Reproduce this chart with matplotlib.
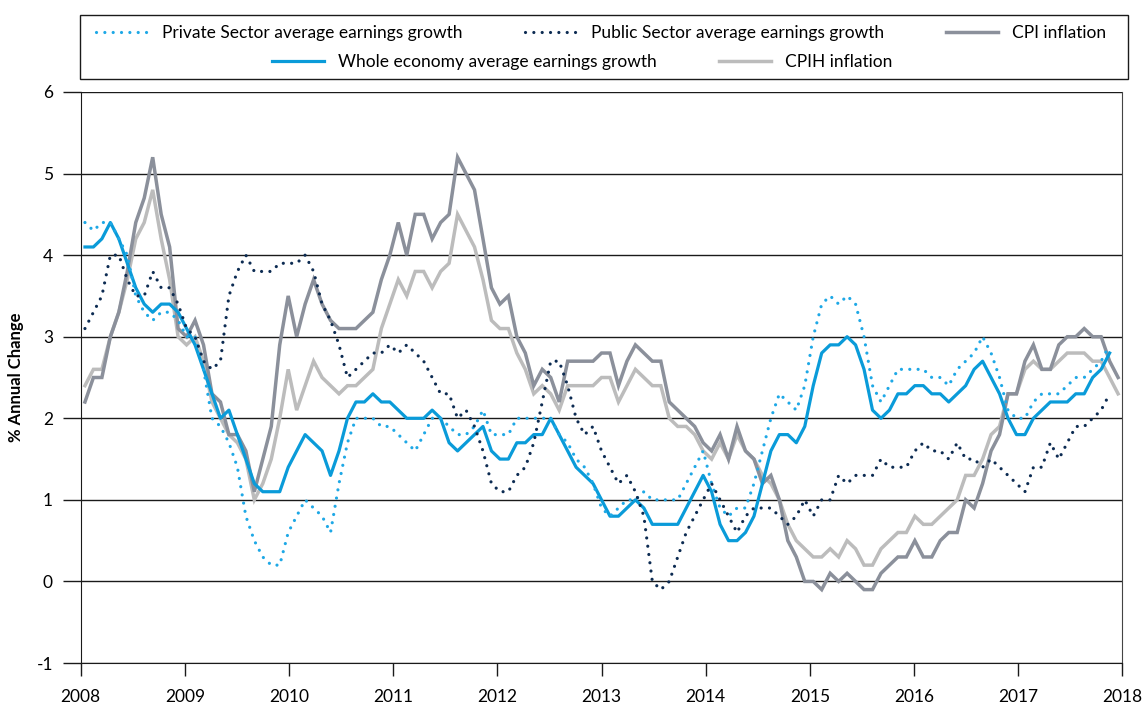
import matplotlib
matplotlib.use("Agg")
import matplotlib.pyplot as plt
from matplotlib.patches import Rectangle

plt.rcParams['font.family'] = ['Lato', 'DejaVu Sans']
plt.rcParams['axes.unicode_minus'] = False

# monthly series, Jan 2008 onwards
cpi = [2.2, 2.5, 2.5, 3.0, 3.3, 3.8, 4.4, 4.7, 5.2, 4.5, 4.1, 3.1,
       3.0, 3.2, 2.9, 2.3, 2.2, 1.8, 1.8, 1.6, 1.1, 1.5, 1.9, 2.9,
       3.5, 3.0, 3.4, 3.7, 3.4, 3.2, 3.1, 3.1, 3.1, 3.2, 3.3, 3.7,
       4.0, 4.4, 4.0, 4.5, 4.5, 4.2, 4.4, 4.5, 5.2, 5.0, 4.8, 4.2,
       3.6, 3.4, 3.5, 3.0, 2.8, 2.4, 2.6, 2.5, 2.2, 2.7, 2.7, 2.7,
       2.7, 2.8, 2.8, 2.4, 2.7, 2.9, 2.8, 2.7, 2.7, 2.2, 2.1, 2.0,
       1.9, 1.7, 1.6, 1.8, 1.5, 1.9, 1.6, 1.5, 1.2, 1.3, 1.0, 0.5,
       0.3, 0.0, 0.0, -0.1, 0.1, 0.0, 0.1, 0.0, -0.1, -0.1, 0.1, 0.2,
       0.3, 0.3, 0.5, 0.3, 0.3, 0.5, 0.6, 0.6, 1.0, 0.9, 1.2, 1.6,
       1.8, 2.3, 2.3, 2.7, 2.9, 2.6, 2.6, 2.9, 3.0, 3.0, 3.1, 3.0,
       3.0, 2.7, 2.5]

cpih = [2.4, 2.6, 2.6, 3.0, 3.3, 3.7, 4.2, 4.4, 4.8, 4.2, 3.7, 3.0,
        2.9, 3.0, 2.7, 2.2, 2.0, 1.8, 1.7, 1.5, 1.0, 1.2, 1.5, 2.0,
        2.6, 2.1, 2.4, 2.7, 2.5, 2.4, 2.3, 2.4, 2.4, 2.5, 2.6, 3.1,
        3.4, 3.7, 3.5, 3.8, 3.8, 3.6, 3.8, 3.9, 4.5, 4.3, 4.1, 3.7,
        3.2, 3.1, 3.1, 2.8, 2.6, 2.3, 2.4, 2.3, 2.1, 2.4, 2.4, 2.4,
        2.4, 2.5, 2.5, 2.2, 2.4, 2.6, 2.5, 2.4, 2.4, 2.0, 1.9, 1.9,
        1.8, 1.6, 1.5, 1.7, 1.5, 1.8, 1.6, 1.5, 1.3, 1.2, 1.0, 0.7,
        0.5, 0.4, 0.3, 0.3, 0.4, 0.3, 0.5, 0.4, 0.2, 0.2, 0.4, 0.5,
        0.6, 0.6, 0.8, 0.7, 0.7, 0.8, 0.9, 1.0, 1.3, 1.3, 1.5, 1.8,
        1.9, 2.3, 2.3, 2.6, 2.7, 2.6, 2.6, 2.7, 2.8, 2.8, 2.8, 2.7,
        2.7, 2.5, 2.3]

whole = [4.1, 4.1, 4.2, 4.4, 4.2, 3.9, 3.6, 3.4, 3.3, 3.4, 3.4, 3.3,
         3.1, 2.9, 2.6, 2.3, 2.0, 2.1, 1.8, 1.5, 1.2, 1.1, 1.1, 1.1,
         1.4, 1.6, 1.8, 1.7, 1.6, 1.3, 1.6, 2.0, 2.2, 2.2, 2.3, 2.2,
         2.2, 2.1, 2.0, 2.0, 2.0, 2.1, 2.0, 1.7, 1.6, 1.7, 1.8, 1.9,
         1.6, 1.5, 1.5, 1.7, 1.7, 1.8, 1.8, 2.0, 1.8, 1.6, 1.4, 1.3,
         1.2, 1.0, 0.8, 0.8, 0.9, 1.0, 0.9, 0.7, 0.7, 0.7, 0.7, 0.9,
         1.1, 1.3, 1.1, 0.7, 0.5, 0.5, 0.6, 0.8, 1.2, 1.6, 1.8, 1.8,
         1.7, 1.9, 2.4, 2.8, 2.9, 2.9, 3.0, 2.9, 2.6, 2.1, 2.0, 2.1,
         2.3, 2.3, 2.4, 2.4, 2.3, 2.3, 2.2, 2.3, 2.4, 2.6, 2.7, 2.5,
         2.3, 2.0, 1.8, 1.8, 2.0, 2.1, 2.2, 2.2, 2.2, 2.3, 2.3, 2.5,
         2.6, 2.8]

private = [4.4, 4.3, 4.4, 4.4, 4.2, 4.0, 3.5, 3.3, 3.2, 3.3, 3.3, 3.2,
           3.0, 3.0, 2.6, 2.0, 1.9, 1.7, 1.4, 0.8, 0.5, 0.3, 0.2, 0.2,
           0.6, 0.8, 1.0, 0.9, 0.8, 0.6, 1.2, 1.7, 2.0, 2.0, 2.0, 1.9,
           1.9, 1.8, 1.7, 1.6, 1.8, 2.0, 2.0, 1.9, 1.8, 1.8, 1.9, 2.1,
           1.8, 1.8, 1.8, 2.0, 2.0, 2.0, 2.0, 2.0, 1.8, 1.7, 1.5, 1.4,
           1.2, 0.9, 0.8, 0.9, 1.0, 1.0, 1.1, 1.0, 1.0, 1.0, 1.0, 1.2,
           1.4, 1.6, 1.2, 0.9, 0.8, 0.9, 0.9, 1.2, 1.6, 2.0, 2.3, 2.2,
           2.1, 2.4, 3.0, 3.4, 3.5, 3.4, 3.5, 3.4, 3.0, 2.4, 2.2, 2.4,
           2.6, 2.6, 2.6, 2.6, 2.5, 2.5, 2.4, 2.6, 2.7, 2.8, 3.0, 2.8,
           2.5, 2.1, 2.0, 2.0, 2.2, 2.3, 2.3, 2.3, 2.4, 2.5, 2.5, 2.6,
           2.7, 2.9]

public = [3.1, 3.3, 3.5, 4.0, 4.0, 3.7, 3.5, 3.5, 3.8, 3.6, 3.6, 3.4,
          3.1, 3.0, 2.7, 2.6, 2.7, 3.5, 3.8, 4.0, 3.8, 3.8, 3.8, 3.9,
          3.9, 3.9, 4.0, 3.8, 3.4, 3.2, 2.9, 2.5, 2.6, 2.7, 2.8, 2.8,
          2.9, 2.8, 2.9, 2.8, 2.7, 2.5, 2.3, 2.3, 2.0, 2.1, 1.9, 1.6,
          1.2, 1.1, 1.1, 1.3, 1.4, 1.7, 2.2, 2.7, 2.7, 2.4, 2.0, 1.8,
          1.9, 1.6, 1.4, 1.2, 1.3, 1.1, 0.8, 0.0, -0.1, 0.0, 0.3, 0.6,
          0.8, 1.0, 1.2, 1.0, 0.8, 0.6, 0.8, 0.9, 0.9, 0.9, 0.8, 0.7,
          0.8, 1.0, 0.8, 1.0, 1.0, 1.3, 1.2, 1.3, 1.3, 1.3, 1.5, 1.4,
          1.4, 1.4, 1.6, 1.7, 1.6, 1.6, 1.5, 1.7, 1.5, 1.5, 1.4, 1.5,
          1.4, 1.3, 1.2, 1.1, 1.4, 1.4, 1.7, 1.5, 1.7, 1.9, 1.9, 2.0,
          2.1, 2.3]

years = [str(y) for y in range(2008, 2019)]
n_months = len(cpi)

fig = plt.figure(figsize=(11.45, 7.07), dpi=100)
ax = fig.add_axes([0.0705, 0.0622, 0.9097, 0.8077])


def xs(series):
    return [i + 0.5 for i in range(len(series))]


dot = (0, (0.01, 2.6))
l_cpi, = ax.plot(xs(cpi), cpi, color='#8b909b', lw=2.5, label='CPI inflation',
                 solid_joinstyle='miter', zorder=3)
l_cpih, = ax.plot(xs(cpih), cpih, color='#bcbcbc', lw=2.5, label='CPIH inflation',
                  solid_joinstyle='miter', zorder=2)
l_whole, = ax.plot(xs(whole), whole, color='#0a9bd9', lw=2.3,
                   label='Whole economy average earnings growth', zorder=4)
l_priv, = ax.plot(xs(private), private, color='#1ea8e6', lw=2.3, ls=dot,
                  dash_capstyle='round', label='Private Sector average earnings growth', zorder=5)
l_pub, = ax.plot(xs(public), public, color='#0c2b52', lw=2.3, ls=dot,
                 dash_capstyle='round', label='Public Sector average earnings growth', zorder=5)

ax.set_xlim(0, n_months)
ax.set_ylim(-1, 6)
ax.set_xticks([k * n_months / 10 for k in range(11)])
ax.set_xticklabels(years)
ax.set_yticks(range(-1, 7))
ax.grid(axis='y', color='#1a1a1a', lw=1.0)
ax.set_axisbelow(True)
ax.tick_params(axis='y', length=13, width=1, pad=7, labelsize=12.5, color='#1a1a1a')
ax.tick_params(axis='x', length=9.5, width=1, pad=9, labelsize=12.5, color='#1a1a1a')
ax.spines['top'].set_visible(False)
for s in ['left', 'bottom']:
    ax.spines[s].set_color('#1a1a1a')
ax.spines['right'].set_color('#444444')
ax.set_ylabel('% Annual Change', fontsize=12, fontweight='bold')
ax.yaxis.set_label_coords(-0.054, 0.5)

leg_kw = dict(frameon=False, fontsize=12.5, handlelength=3.0, handletextpad=0.8,
              columnspacing=3.6, loc='center')
fig.legend(handles=[l_priv, l_pub, l_cpi], ncol=3,
           bbox_to_anchor=(601 / 1145, 1 - 33 / 707), **leg_kw)
fig.legend(handles=[l_whole, l_cpih], ncol=2,
           bbox_to_anchor=(582 / 1145, 1 - 62 / 707), **leg_kw)
fig.patches.append(Rectangle((80 / 1145, 1 - 79 / 707), 1048 / 1145, 64 / 707,
                             transform=fig.transFigure, fill=False,
                             edgecolor='#1a1a1a', lw=1.0))

fig.savefig('out.png', dpi=100)
